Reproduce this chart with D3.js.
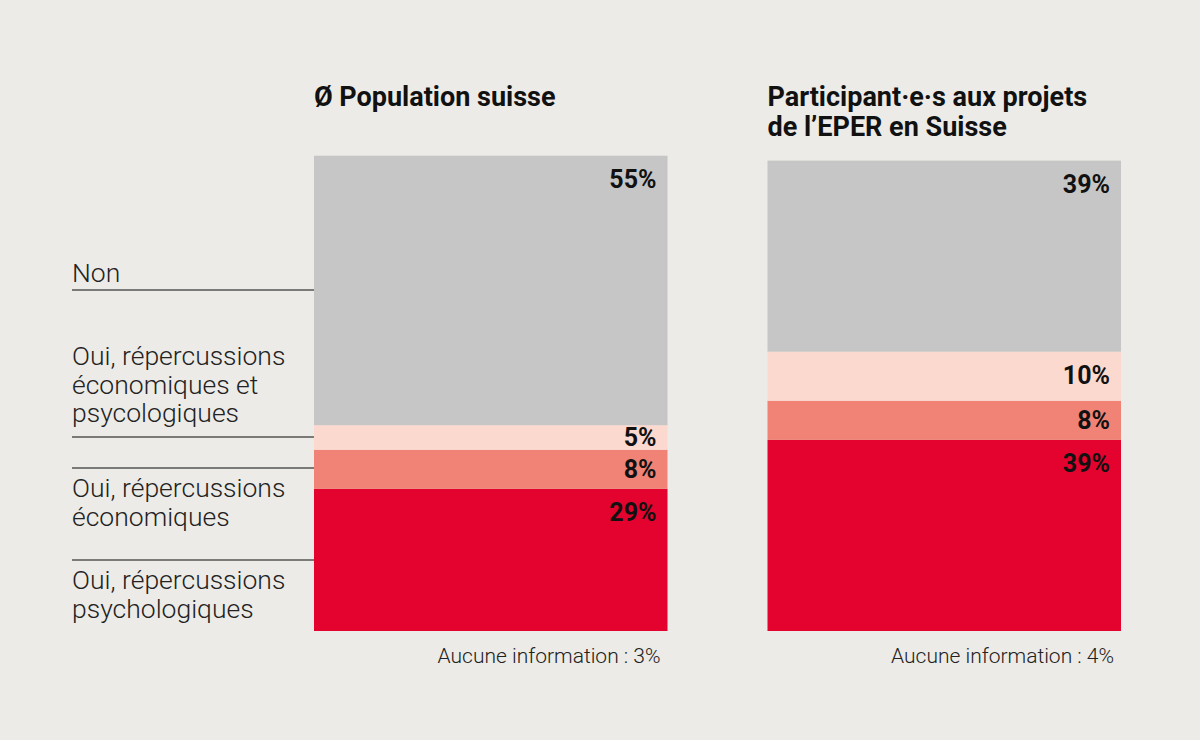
<!DOCTYPE html>
<html lang="fr">
<head>
<meta charset="UTF-8">
<title>Répercussions</title>
<script src="https://cdn.jsdelivr.net/npm/d3@7"></script>
<style>
  body { margin: 0; background: #ecebe7; }
  svg { display: block; font-family: 'Roboto', sans-serif; }
  .title { font-weight: 700; font-size: 27px; fill: #111; }
  .val { font-weight: 700; font-size: 25px; fill: #111; text-anchor: end; }
  .lab { font-weight: 300; font-size: 26.5px; fill: #222; }
  .note { font-weight: 300; font-size: 21px; fill: #222; text-anchor: end; }
  .rule { stroke: #555; stroke-width: 1.5; }
</style>
</head>
<body>
<svg id="chart" width="1200" height="740"></svg>
<script>
// data
const groups = ['Ø Population suisse', 'Participant·e·s aux projets de l’EPER en Suisse'];
const titleLines = [['Ø Population suisse'], ['Participant·e·s aux projets', 'de l’EPER en Suisse']];
const categories = ['psycho', 'eco', 'both', 'non']; // bottom -> top
const popSuisse = [29, 8, 5, 55];
const eper = [39, 8, 10, 39];
const noInfo = [3, 4];
const catLabels = [
  ['Non'],
  ['Oui, répercussions', 'économiques et', 'psycologiques'],
  ['Oui, répercussions', 'économiques'],
  ['Oui, répercussions', 'psychologiques']
];

const colors = { psycho: '#e4032e', eco: '#f08375', both: '#fbd9cf', non: '#c6c6c6' };

const svg = d3.select('#chart');
const x = d3.scaleBand().domain(groups).range([314, 1121]).paddingInner(0.2205);
const y = d3.scaleLinear().domain([0, 100]).range([631, 141]);

const series = [popSuisse, eper];

groups.forEach((g, gi) => {
  const vals = series[gi];
  let acc = 0;
  const segs = vals.map((v, i) => { const s = { cat: categories[i], v, y0: acc, y1: acc + v }; acc += v; return s; });
  const gEl = svg.append('g');
  gEl.selectAll('rect').data(segs).join('rect')
    .attr('x', x(g)).attr('width', x.bandwidth())
    .attr('y', d => y(d.y1)).attr('height', d => y(d.y0) - y(d.y1))
    .attr('fill', d => colors[d.cat]);
  gEl.selectAll('text.val').data(segs).join('text')
    .attr('class', 'val')
    .attr('x', x(g) + x.bandwidth() - 11)
    .attr('y', d => y(d.y1) + Math.min(32, (y(d.y0) - y(d.y1)) / 2 + 9))
    .text(d => d.v + '%');

  // title
  gEl.selectAll('text.title').data(titleLines[gi]).join('text')
    .attr('class', 'title')
    .attr('x', x(g))
    .attr('y', (d, i) => 106 + i * 30)
    .text(d => d);

  svg.append('text').attr('class', 'note')
    .attr('x', x(g) + x.bandwidth() - 7).attr('y', 663)
    .text('Aucune information : ' + noInfo[gi] + '%');
});

// left labels and rules
const labelTops = [282, 365, 497, 589];
const rules = [290, 437, 468, 560];
rules.forEach(r => {
  svg.append('line').attr('class', 'rule')
    .attr('x1', 72).attr('x2', x(groups[0])).attr('y1', r).attr('y2', r);
});
catLabels.forEach((ls, i) => {
  svg.append('g').selectAll('text').data(ls).join('text')
    .attr('class', 'lab').attr('x', 72)
    .attr('y', (d, j) => labelTops[i] + j * 28.5)
    .text(d => d);
});
</script>
</body>
</html>
